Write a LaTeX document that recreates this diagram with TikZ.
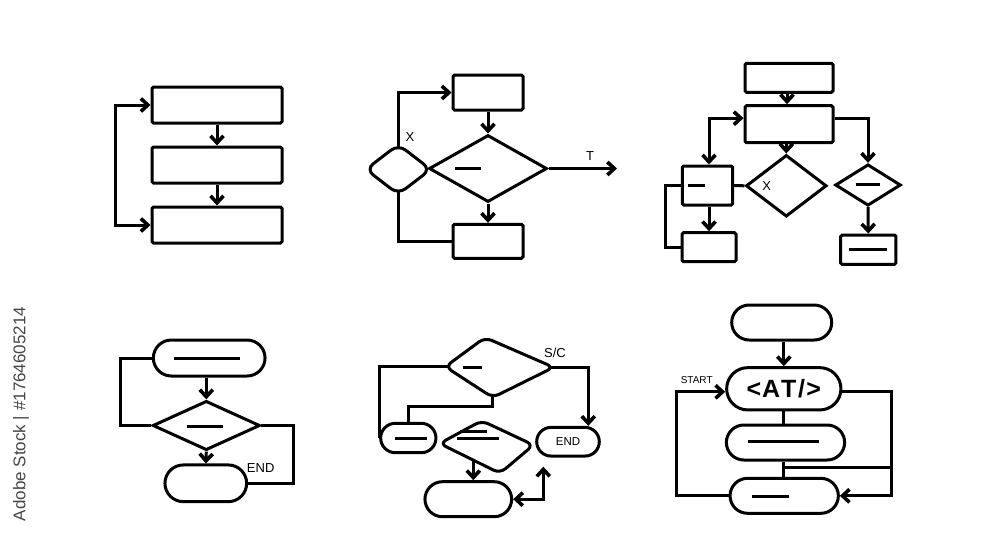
\documentclass[tikz,border=0pt]{standalone}
\usepackage{fontspec}
\setmainfont{Liberation Sans}
\usetikzlibrary{arrows.meta,shapes.geometric,shapes.misc,calc}
\pgfdeclarelayer{bg}
\pgfdeclarelayer{paper}
\pgfsetlayers{paper,bg,main}
\begin{document}
\begin{tikzpicture}[x=1pt,y=-1pt,
  every path/.append style={line width=3pt},
  box/.style={draw,rectangle,inner sep=0pt,rounded corners=1.5pt,fill=white},
  pill/.style={draw,rounded rectangle,inner sep=0pt,fill=white},
  dia/.style={draw,diamond,inner sep=0pt,fill=white},
  arr/.style={-{Straight Barb[length=7pt,width=13pt,line width=3.6pt]}},
  arrb/.style={{Straight Barb[length=7pt,width=13pt,line width=3.6pt]}-{Straight Barb[length=7pt,width=13pt,line width=3.6pt]}},
  lbl/.style={inner sep=0pt,font=\fontsize{13}{15}\selectfont}]
\begin{pgfonlayer}{paper}
\fill[white] (0,0) rectangle (1000,546);
\end{pgfonlayer}
\useasboundingbox (0,0) rectangle (1000,546);

% watermark text
\node[rotate=90,inner sep=0pt,text={rgb,255:red,70;green,70;blue,70},font=\fontsize{17}{19}\selectfont] (wm) at (21,414) {Adobe Stock | \#1764605214};

% ---------- panel 1 ----------
\node[box,minimum width=130pt,minimum height=36pt] (p1a) at (217,105) {};
\node[box,minimum width=130pt,minimum height=36pt] (p1b) at (217,165) {};
\node[box,minimum width=130pt,minimum height=36pt] (p1c) at (217,225) {};

% ---------- panel 2 ----------
\node[box,minimum width=70pt,minimum height=35pt] (p2t) at (488,92.5) {};
\node[dia,rounded corners=9pt,minimum width=66pt,minimum height=51pt] (p2s) at (398.3,169.4) {};
\node[dia,minimum width=118pt,minimum height=67pt] (p2d) at (488,168.5) {};
\node[box,minimum width=70pt,minimum height=34pt] (p2b) at (488,241.3) {};
\coordinate (p2T) at (617,168.5);
\draw (455,168.5) -- (481,168.5);
\node[lbl] (p2x) at (410,137) {X};
\node[lbl] (p2tl) at (590,156) {T};

% ---------- panel 3 ----------
\node[box,minimum width=88pt,minimum height=29pt] (p3a) at (789,77.8) {};
\node[box,minimum width=88pt,minimum height=37pt] (p3b) at (789,124.2) {};
\node[box,minimum width=50.4pt,minimum height=39pt] (p3l) at (707.5,185.5) {};
\node[box,minimum width=54pt,minimum height=29pt] (p3ll) at (709,247.2) {};
\node[dia,minimum width=80.7pt,minimum height=61.7pt] (p3d) at (786.3,185.8) {};
\node[dia,minimum width=65.7pt,minimum height=41.4pt] (p3rd) at (868,185) {};
\node[box,minimum width=55.3pt,minimum height=29.3pt] (p3rb) at (868.3,249.7) {};
\draw (688,185.7) -- (705,185.7);
\draw (855.7,184.5) -- (880,184.5);
\draw (849,249) -- (886.7,249);
\node[lbl] (p3x) at (766.7,185.7) {X};

% ---------- panel 4 ----------
\node[pill,minimum width=111.7pt,minimum height=36pt] (p4a) at (209.2,358) {};
\node[dia,minimum width=107.3pt,minimum height=49.3pt] (p4d) at (206.3,425.5) {};
\node[pill,minimum width=81.7pt,minimum height=36.7pt] (p4b) at (205.8,483.3) {};
\draw (174,358.3) -- (240,358.3);
\draw (187.3,426.7) -- (223.3,426.7);
\node[lbl] (p4end) at (260.7,468.3) {END};

% ---------- panel 5 ----------
\coordinate (p5L) at (445.3,366.7);
\coordinate (p5T) at (485,337.5);
\coordinate (p5R) at (553.7,367.3);
\coordinate (p5B) at (492.7,397.5);
\coordinate (p5c) at (495,367);
\draw[fill=white,rounded corners=7pt] ($(p5L)!0.5!(p5T)$) -- (p5T) -- (p5R) -- (p5B) -- (p5L) -- cycle;
\coordinate (p5mL) at (439.6,443.5);
\coordinate (p5mT) at (481.7,420.7);
\coordinate (p5mR) at (533.5,445);
\coordinate (p5mB) at (500,473.3);
\draw[fill=white,rounded corners=7pt] ($(p5mL)!0.5!(p5mT)$) -- (p5mT) -- (p5mR) -- (p5mB) -- (p5mL) -- cycle;
\coordinate (p5x) at (473.3,452);
\node[pill,minimum width=55.3pt,minimum height=29.4pt] (p5s) at (408.3,438) {};
\node[pill,minimum width=62.6pt,minimum height=28.7pt,font=\fontsize{11.5}{13}\selectfont] (p5e) at (568,441.7) {END};
\node[pill,minimum width=86.7pt,minimum height=35pt] (p5b) at (468.3,499.2) {};
\coordinate (p5u) at (543.3,466.7);
\draw (463.3,367.3) -- (481.7,367.3);
\draw (395,438.3) -- (426.7,438.3);
\draw (460,431) -- (486.7,431);
\draw (456.5,438.8) -- (499,438.8);
\node[lbl] (p5sc) at (555,353.3) {S/C};

% ---------- panel 6 ----------
\node[pill,minimum width=100pt,minimum height=35pt] (p6a) at (781.7,322.5) {};
\node[pill,minimum width=114.3pt,minimum height=42.3pt,font=\fontsize{25}{28}\selectfont\bfseries] (p6t) at (783.8,388.8) {<\kern1pt A\kern1pt T\kern1.5pt/\kern1.5pt>};
\node[pill,minimum width=118.3pt,minimum height=35pt] (p6m) at (785.5,442.5) {};
\node[pill,minimum width=108.3pt,minimum height=35pt] (p6b) at (784.2,495.8) {};
\coordinate (p6r) at (891.7,467.7);
\draw (748.3,441.7) -- (819,441.7);
\draw (752.3,496.7) -- (789,496.7);
\node[lbl,font=\fontsize{10}{12}\selectfont] (p6st) at (696.7,380) {START};

% ---------- connectors ----------
\begin{pgfonlayer}{bg}
% panel 1
\draw[arr] (p1a.south) -- (p1b.north);
\draw[arr] (p1b.south) -- (p1c.north);
\draw[arrb] (p1a.west) -- ++(-35,0) |- (p1c.west);
% panel 2
\draw[arr] (p2t.south) -- (p2d.north);
\draw[arr] (p2d.south) -- (p2b.north);
\draw[arr] (p2d.east) -- (p2T);
\draw[arr] (p2s.center) -- (p2s.north) |- (p2t.west);
\draw (p2s.center) -- (p2s.south) |- (p2b.west);
% panel 3
\draw[arr] ([xshift=-2pt]p3a.south) -- ([xshift=-2pt]p3b.north);
\draw[arrb] ([xshift=1.5pt]p3l.north) |- ([yshift=6pt]p3b.west);
\draw[arr] (p3d.north |- p3b.south) -- (p3d.north);
\draw (p3l.east) -- (p3d.west);
\draw[arr] (p3ll.north |- p3l.south) -- (p3ll.north);
\draw (p3l.west) -- ++(-15,0) |- (p3ll.west);
\draw[arr] ([yshift=6pt]p3b.east) -| (p3rd.north);
\draw[arr] (p3rd.south) -- (p3rb.north);
% panel 4
\draw[arr] (p4d.north |- p4a.south) -- (p4d.north);
\draw[arr] (p4d.south) -- (p4b.north);
\draw (p4a.west) -- ++(-31.6,0) |- (p4d.west);
\draw (p4d.east) -- ++(31.7,0) |- (p4b.east);
% panel 5
\draw (p5L -| p5c) -- (p5L) -| (p5s.west);
\draw[arr] (p5R -| p5c) -- (p5R) -| ([xshift=20.3pt]p5e.north);
\draw (p5B |- p5c) -- (p5B) -- ++(0,8.5) -| (p5s.north);
\draw[arr] (p5x) -- (p5x |- p5b.north);
\draw[arrb] (p5b.east) -- (p5b.east -| p5u) -- (p5u);
% panel 6
\draw[arr] (p6t.north |- p6a.south) -- (p6t.north);
\draw[arr] (p6b.west) -- ++(-52,0) |- ([yshift=-3pt]p6t.west);
\draw[arr] ([yshift=-3pt]p6t.east) -| (p6r) |- (p6b.east);
\draw (p6t.south) -- (p6t.south |- p6m.north);
\draw (p6t.south |- p6m.south) -- (p6t.south |- p6b.north);
\draw (p6t.south |- p6r) -- (p6r);
\end{pgfonlayer}
\end{tikzpicture}
\end{document}
